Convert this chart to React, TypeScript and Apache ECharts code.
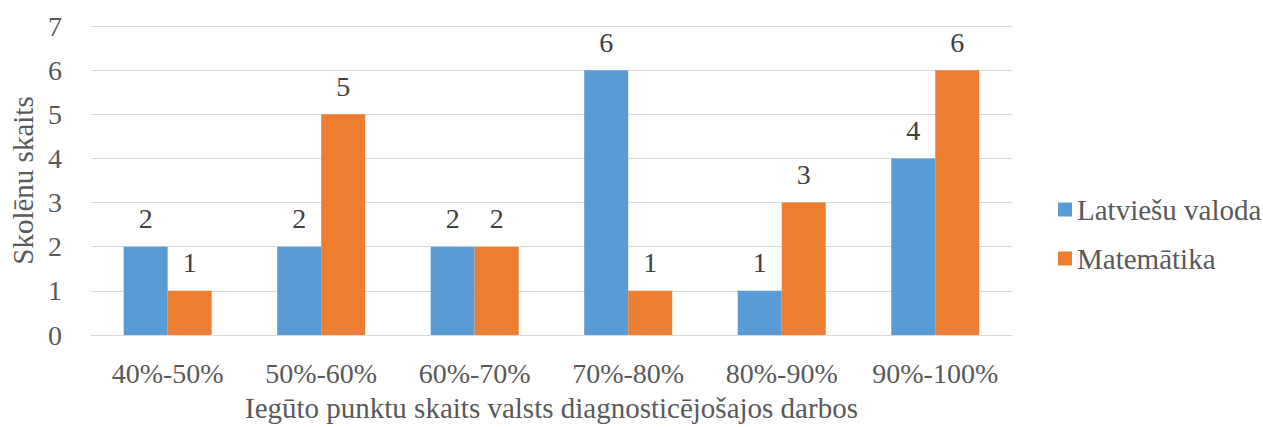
import React, { useEffect, useRef } from "react";
import * as echarts from "echarts";

const categories = ["40%-50%", "50%-60%", "60%-70%", "70%-80%", "80%-90%", "90%-100%"];
const latvian = [2, 2, 2, 6, 1, 4];
const math = [1, 5, 2, 1, 3, 6];
const seriesNames = ["Latviešu valoda", "Matemātika"];
const xTitle = "Iegūto punktu skaits valsts diagnosticējošajos darbos";
const yTitle = "Skolēnu skaits";

const FONT = "Times New Roman, Liberation Serif, DejaVu Serif, serif";

export default function App() {
  const ref = useRef<HTMLDivElement>(null);
  useEffect(() => {
    if (!ref.current) return;
    const chart = echarts.init(ref.current, undefined, { renderer: "svg" });
    const label = {
      show: true,
      position: "top" as const,
      distance: 14,
      fontFamily: FONT,
      fontSize: 28,
      color: "#404040",
    };
    chart.setOption({
      animation: false,
      textStyle: { fontFamily: FONT },
      grid: { left: 86, right: 251, top: 26, bottom: 90, containLabel: false },
      legend: {
        orient: "vertical",
        left: 1053,
        top: 190,
        itemWidth: 14,
        itemHeight: 14,
        itemGap: 20,
        icon: "rect",
        textStyle: { fontFamily: FONT, fontSize: 29, color: "#595959" },
        data: seriesNames,
      },
      xAxis: {
        type: "category",
        data: categories,
        axisTick: { show: false },
        axisLine: { lineStyle: { color: "#d9d9d9", width: 1 } },
        axisLabel: { interval: 0, fontFamily: FONT, fontSize: 28, color: "#595959", margin: 24 },
        name: xTitle,
        nameLocation: "middle",
        nameGap: 58,
        nameTextStyle: { fontFamily: FONT, fontSize: 29, color: "#595959" },
      },
      yAxis: {
        type: "value",
        min: 0,
        max: 7,
        interval: 1,
        axisLine: { show: false },
        axisTick: { show: false },
        splitLine: { lineStyle: { color: "#d9d9d9", width: 1 } },
        axisLabel: { fontFamily: FONT, fontSize: 28, color: "#595959", margin: 29 },
        name: yTitle,
        nameLocation: "middle",
        nameGap: 44,
        nameRotate: 90,
        nameTextStyle: { fontFamily: FONT, fontSize: 29, color: "#595959" },
      },
      series: [
        {
          name: seriesNames[0],
          type: "bar",
          data: latvian,
          barWidth: 44,
          barGap: "0%",
          itemStyle: { color: "#5B9BD5" },
          label,
        },
        {
          name: seriesNames[1],
          type: "bar",
          data: math,
          barWidth: 44,
          barGap: "0%",
          itemStyle: { color: "#ED7D31" },
          label,
        },
      ],
    });
    return () => chart.dispose();
  }, []);
  return (
    <div
      ref={ref}
      style={{ position: "fixed", left: 0, top: 0, width: 1263, height: 427, background: "#fff" }}
    />
  );
}
